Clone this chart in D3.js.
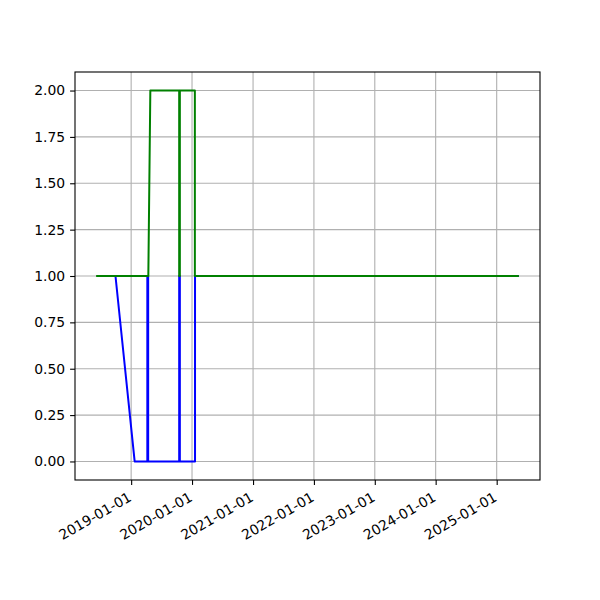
<!DOCTYPE html>
<html>
<head>
<meta charset="utf-8">
<script src="https://cdn.jsdelivr.net/npm/d3@7"></script>
<style>
  body { margin: 0; background: #fff; }
  svg { display: block; }
  text { font-family: "DejaVu Sans", sans-serif; }
</style>
</head>
<body>
<svg id="chart" width="600" height="600"></svg>
<script>
// ---- data ----
const blueDates  = ["2018-09-29","2019-01-22","2019-04-08","2019-04-08","2019-04-13","2019-04-13","2019-10-16","2019-10-16","2019-10-20","2019-10-20","2020-01-19","2020-01-19","2025-05-14"];
const blueValues = [1, 0, 0, 1, 1, 0, 0, 1, 1, 0, 0, 1, 1];
const greenDates  = ["2018-06-05","2019-04-14","2019-04-26","2019-10-16","2019-10-16","2019-10-20","2019-10-20","2020-01-18","2020-01-18","2025-05-14"];
const greenValues = [1, 1, 2, 2, 1, 1, 2, 2, 1, 1];
const yTicks = [0, 0.25, 0.5, 0.75, 1.0, 1.25, 1.5, 1.75, 2.0];
const xTickYears = [2019, 2020, 2021, 2022, 2023, 2024, 2025];

(function () {
const parse = d3.utcParse("%Y-%m-%d");
const blue = blueDates.map((d, i) => ({ t: parse(d), v: blueValues[i] }));
const green = greenDates.map((d, i) => ({ t: parse(d), v: greenValues[i] }));

const mLeft = 75, mRight = 540, mTop = 72, mBottom = 480;

const svg = d3.select("#chart");

// x domain: data extent with 5% margin (matplotlib style)
const all = blue.concat(green);
const tMin = d3.min(all, d => +d.t), tMax = d3.max(all, d => +d.t);
const pad = (tMax - tMin) * 0.05;
const x = d3.scaleUtc().domain([new Date(tMin - pad), new Date(tMax + pad)]).range([mLeft, mRight]);

const vMin = 0, vMax = 2, vPad = (vMax - vMin) * 0.05;
const y = d3.scaleLinear().domain([vMin - vPad, vMax + vPad]).range([mBottom, mTop]);

const xTicks = xTickYears.map(yr => new Date(Date.UTC(yr, 0, 1)));

// grid
const grid = svg.append("g");
grid.selectAll("line.gx").data(xTicks).enter().append("line")
  .attr("x1", d => x(d)).attr("x2", d => x(d))
  .attr("y1", mTop).attr("y2", mBottom)
  .attr("stroke", "#b0b0b0").attr("stroke-width", 1.1);
grid.selectAll("line.gy").data(yTicks).enter().append("line")
  .attr("x1", mLeft).attr("x2", mRight)
  .attr("y1", d => y(d)).attr("y2", d => y(d))
  .attr("stroke", "#b0b0b0").attr("stroke-width", 1.1);

// lines
const line = d3.line().x(d => x(d.t)).y(d => y(d.v));
svg.append("path").datum(blue).attr("d", line)
  .attr("fill", "none").attr("stroke", "#0000ff").attr("stroke-width", 2)
  .attr("stroke-linejoin", "round").attr("stroke-linecap", "butt");
svg.append("path").datum(green).attr("d", line)
  .attr("fill", "none").attr("stroke", "#008000").attr("stroke-width", 2)
  .attr("stroke-linejoin", "round").attr("stroke-linecap", "butt");

// axes
const fmt = d3.utcFormat("%Y-%m-%d");
const xAxis = svg.append("g").attr("transform", `translate(0,${mBottom})`)
  .call(d3.axisBottom(x).tickValues(xTicks).tickFormat(fmt).tickSize(4.9).tickPadding(0).tickSizeOuter(0));
xAxis.select(".domain").remove();
xAxis.selectAll(".tick line").attr("stroke", "#000").attr("stroke-width", 1.1);
xAxis.selectAll(".tick text")
  .attr("font-size", "13.9px").attr("fill", "#000")
  .attr("text-anchor", "end")
  .attr("dy", null).attr("y", 0)
  .attr("transform", "translate(0.8,20) rotate(-30)");

const yAxis = svg.append("g").attr("transform", `translate(${mLeft},0)`)
  .call(d3.axisLeft(y).tickValues(yTicks).tickFormat(d3.format(".2f")).tickSize(4.9).tickPadding(4.9).tickSizeOuter(0));
yAxis.select(".domain").remove();
yAxis.selectAll(".tick line").attr("stroke", "#000").attr("stroke-width", 1.1);
yAxis.selectAll(".tick text").attr("font-size", "13.9px").attr("fill", "#000");

// spines
svg.append("rect").attr("x", mLeft).attr("y", mTop)
  .attr("width", mRight - mLeft).attr("height", mBottom - mTop)
  .attr("fill", "none").attr("stroke", "#000").attr("stroke-width", 1.1);
})();
</script>
</body>
</html>
